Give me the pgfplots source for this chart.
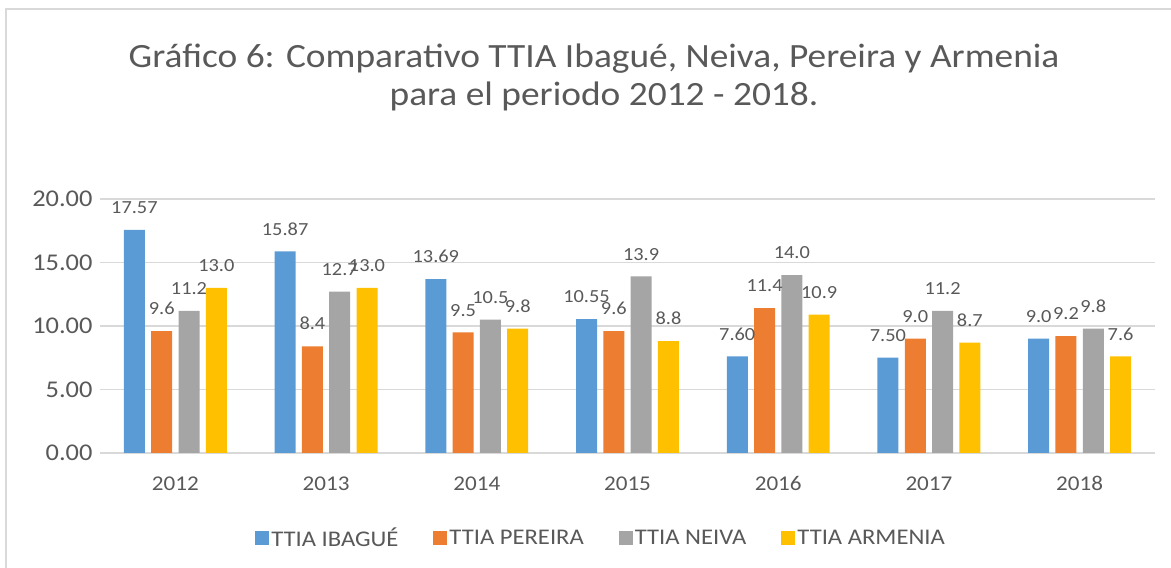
\documentclass[border=0pt]{standalone}
\usepackage{fontspec}
\setmainfont{Carlito}[FakeStretch=1.1]
\usepackage{pgfplots}
\pgfplotsset{compat=1.18}
\definecolor{cblue}{HTML}{5B9BD5}
\definecolor{corange}{HTML}{ED7D31}
\definecolor{cgray}{HTML}{A5A5A5}
\definecolor{cyellow}{HTML}{FFC000}
\definecolor{txt}{HTML}{595959}
\definecolor{gridc}{HTML}{D9D9D9}
\begin{document}
\begin{tikzpicture}
\path[use as bounding box] (0,0) rectangle (1171bp,568bp);
\draw[gridc, line width=1.5bp] (6bp,0) -- (6bp,559bp) -- (1171bp,559bp);
\node[anchor=base, text=txt, font=\fontsize{34bp}{38bp}\selectfont] at (594bp,500bp) {Gráfico 6: Comparativo TTIA Ibagué, Neiva, Pereira y Armenia};
\node[anchor=base, text=txt, font=\fontsize{34bp}{38bp}\selectfont] at (604bp,462bp) {para el periodo 2012 - 2018.};
\begin{axis}[
  at={(100bp,115bp)}, anchor=south west,
  scale only axis, width=1055bp, height=254bp,
  xmin=-0.5, xmax=6.5, ymin=0, ymax=20,
  ytick={0,5,10,15,20},
  xtick={0,1,2,3,4,5,6},
  xticklabels={2012,2013,2014,2015,2016,2017,2018},
  /pgf/number format/fixed, /pgf/number format/fixed zerofill, /pgf/number format/precision=2, /pgf/number format/assume math mode=true,
  ticklabel style={text=txt},
  xticklabel style={yshift=-20bp, font=\fontsize{21bp}{24bp}\selectfont},
  yticklabel style={xshift=-4bp, font=\fontsize{24bp}{28bp}\selectfont},
  major tick length=0pt,
  axis x line*=bottom, axis y line*=left,
  y axis line style={draw=none},
  x axis line style={gridc, line width=1.5bp},
  ymajorgrids, major grid style={gridc, line width=1.5bp},
  ybar=6.3bp, bar width=21bp,
  point meta=explicit symbolic,
  nodes near coords,
  every node near coord/.append style={text=txt, font=\fontsize{18.5bp}{22bp}\selectfont, inner sep=0pt, anchor=south, yshift=16bp},
  legend columns=4,
  legend style={draw=none, at={(0.475,-0.335)}, anchor=center, text=txt, font=\fontsize{22.4bp}{26bp}\selectfont, /tikz/every even column/.append style={column sep=33bp}},
  legend image code/.code={\fill[#1] (0bp,-7bp) rectangle (14bp,7bp);},
]
\addplot[fill=cblue, draw=none] coordinates {(0,17.57)[17.57] (1,15.87)[15.87] (2,13.69)[13.69] (3,10.55)[10.55] (4,7.60)[7.60] (5,7.50)[7.50] (6,9.0)[9.0]};
\addplot[fill=corange, draw=none] coordinates {(0,9.6)[9.6] (1,8.4)[8.4] (2,9.5)[9.5] (3,9.6)[9.6] (4,11.4)[11.4] (5,9.0)[9.0] (6,9.2)[9.2]};
\addplot[fill=cgray, draw=none] coordinates {(0,11.2)[11.2] (1,12.7)[12.7] (2,10.5)[10.5] (3,13.9)[13.9] (4,14.0)[14.0] (5,11.2)[11.2] (6,9.8)[9.8]};
\addplot[fill=cyellow, draw=none] coordinates {(0,13.0)[13.0] (1,13.0)[13.0] (2,9.8)[9.8] (3,8.8)[8.8] (4,10.9)[10.9] (5,8.7)[8.7] (6,7.6)[7.6]};
\legend{TTIA IBAGUÉ, TTIA PEREIRA, TTIA NEIVA, TTIA ARMENIA}
\end{axis}
\end{tikzpicture}
\end{document}
